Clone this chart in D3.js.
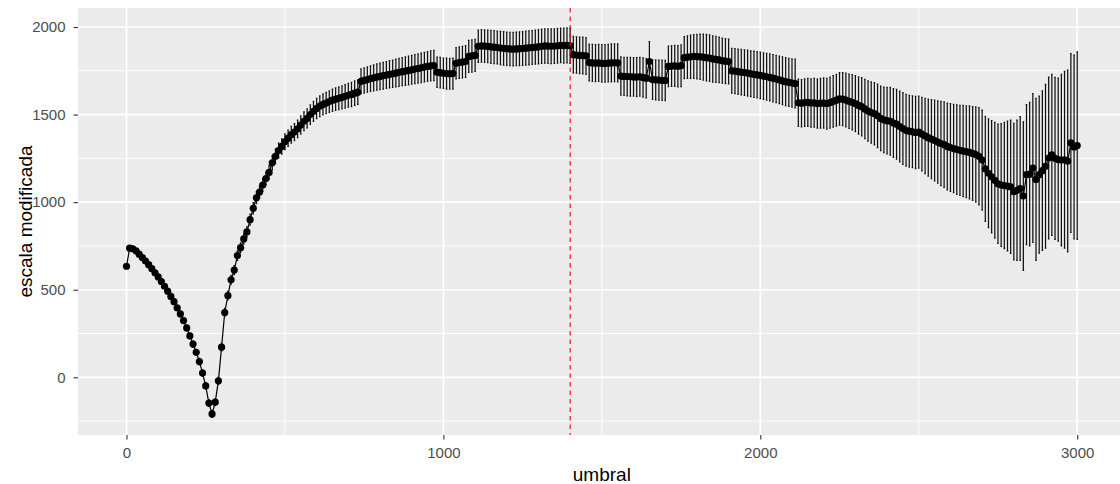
<!DOCTYPE html>
<html><head><meta charset="utf-8">
<script src="https://cdn.jsdelivr.net/npm/d3@7"></script>
<style>body{margin:0;background:#fff;overflow:hidden}</style>
</head><body><svg id="c" width="1120" height="484"></svg>
<script>
// ---- data ----
const umbral = d3.range(0, 3001, 10);
const escala = [
  634, 737, 734, 722, 703, 684, 664, 643, 620, 597,
  573, 547, 520, 492, 462, 432, 396, 362, 324, 282,
  236, 190, 143, 90, 24, -49, -147, -209, -142, -20,
  172, 370, 466, 557, 612, 695, 740, 790, 830, 900,
  965, 1025, 1058, 1098, 1135, 1170, 1225, 1262, 1295, 1318,
  1345, 1365, 1385, 1400, 1418, 1440, 1462, 1478, 1500, 1518,
  1535, 1548, 1558, 1566, 1574, 1582, 1588, 1593, 1598, 1604,
  1610, 1615, 1622, 1628, 1690, 1695, 1700, 1705, 1710, 1714,
  1718, 1722, 1726, 1730, 1733, 1737, 1741, 1745, 1748, 1752,
  1756, 1760, 1763, 1767, 1771, 1775, 1778, 1780, 1742, 1739,
  1736, 1734, 1733, 1734, 1793, 1797, 1800, 1803, 1832, 1835,
  1838, 1890, 1892, 1891, 1889, 1887, 1885, 1883, 1880, 1878,
  1876, 1875, 1874, 1875, 1876, 1877, 1879, 1881, 1883, 1885,
  1887, 1890, 1892, 1891, 1890, 1891, 1893, 1895, 1894, 1895,
  1893, 1842, 1840, 1838, 1837, 1835, 1797, 1795, 1794, 1795,
  1793, 1792, 1794, 1795, 1796, 1795, 1720, 1718, 1717, 1716,
  1715, 1714, 1716, 1712, 1708, 1803, 1700, 1698, 1697, 1696,
  1695, 1775, 1777, 1778, 1776, 1779, 1825, 1828, 1830, 1832,
  1831, 1830, 1828, 1825, 1822, 1818, 1815, 1812, 1808, 1805,
  1803, 1750, 1748, 1745, 1742, 1740, 1737, 1733, 1730, 1727,
  1724, 1720, 1716, 1712, 1708, 1703, 1698, 1693, 1688, 1684,
  1680, 1677, 1567, 1565, 1568, 1570, 1566, 1567, 1563, 1565,
  1566, 1562, 1568, 1575, 1582, 1590, 1588, 1583, 1576, 1570,
  1562, 1552, 1545, 1532, 1520, 1512, 1505, 1493, 1478, 1470,
  1465, 1462, 1452, 1445, 1432, 1420, 1410, 1405, 1402, 1398,
  1400, 1388, 1378, 1368, 1360, 1352, 1343, 1335, 1328, 1318,
  1312, 1306, 1300, 1296, 1292, 1288, 1284, 1278, 1272, 1262,
  1240, 1190, 1165, 1145, 1125, 1105, 1098, 1095, 1092, 1088,
  1060, 1068, 1078, 1035, 1157, 1160, 1195, 1130, 1157, 1180,
  1205, 1252, 1270, 1250, 1243, 1240, 1242, 1235, 1338, 1315,
  1323
];
const margenError = [
  6, 7, 7, 8, 8, 9, 9, 10, 10, 11,
  11, 12, 12, 13, 13, 14, 14, 15, 15, 16,
  16, 17, 17, 18, 18, 19, 19, 20, 20, 21,
  22, 23, 24, 25, 26, 27, 28, 29, 30, 31,
  32, 33, 34, 36, 37, 38, 40, 41, 42, 44,
  45, 46, 48, 49, 50, 52, 53, 54, 56, 57,
  58, 59, 60, 61, 62, 63, 64, 65, 66, 67,
  68, 69, 70, 70, 71, 72, 72, 73, 74, 75,
  76, 76, 77, 78, 78, 79, 80, 80, 81, 82,
  82, 83, 83, 84, 84, 85, 85, 86, 86, 87,
  87, 88, 88, 89, 89, 90, 90, 91, 91, 92,
  92, 92, 93, 93, 93, 94, 94, 94, 95, 95,
  95, 95, 96, 96, 96, 96, 97, 97, 97, 97,
  98, 98, 98, 98, 99, 99, 99, 99, 100, 100,
  100, 104, 104, 104, 105, 105, 105, 106, 106, 106,
  107, 107, 107, 108, 108, 108, 109, 109, 110, 110,
  110, 111, 111, 112, 112, 113, 113, 114, 114, 115,
  115, 116, 116, 117, 118, 119, 120, 121, 123, 125,
  127, 129, 131, 133, 133, 132, 131, 130, 129, 128,
  128, 128, 129, 129, 130, 130, 131, 131, 132, 132,
  133, 133, 134, 134, 135, 135, 136, 136, 137, 137,
  138, 139, 135, 135, 136, 137, 138, 139, 140, 142,
  144, 145, 146, 147, 148, 150, 151, 153, 155, 158,
  160, 163, 166, 169, 172, 175, 178, 181, 184, 187,
  190, 193, 196, 199, 202, 205, 205, 205, 205, 206,
  206, 210, 215, 220, 225, 230, 235, 240, 244, 248,
  250, 252, 255, 257, 260, 262, 265, 268, 272, 278,
  285, 300, 310, 320, 330, 340, 350, 360, 370, 380,
  390, 400, 410, 424, 400, 410, 424, 462, 448, 455,
  467, 462, 460, 462, 465, 490, 505, 519, 510, 524,
  535
];
const xTicks = [0, 1000, 2000, 3000];
const yTicks = [0, 500, 1000, 1500, 2000];
const xMinor = [500, 1500, 2500];
const yMinor = [-250, 250, 750, 1250, 1750];
const umbralElegido = 1400;
const xTitle = "umbral";
const yTitle = "escala modificada";

// ---- layout ----
const P = {l: 78, t: 8, b: 435, r: 1125.7};
const font = "'Liberation Sans', Arial, sans-serif";
const svg = d3.select("#c");
svg.append("rect").attr("width", 1120).attr("height", 484).attr("fill", "#fff");

const x = d3.scaleLinear().domain([-153, 3153]).range([P.l, P.r]);
const y = d3.scaleLinear().domain([-329.4, 2108.5]).range([P.b, P.t]);

svg.append("defs").append("clipPath").attr("id", "clip")
  .append("rect").attr("x", P.l).attr("y", P.t).attr("width", P.r - P.l).attr("height", P.b - P.t);

svg.append("rect").attr("x", P.l).attr("y", P.t).attr("width", P.r - P.l).attr("height", P.b - P.t)
  .attr("fill", "#EBEBEB");

const g = svg.append("g").attr("clip-path", "url(#clip)");
// grid
g.selectAll(".vmin").data(xMinor).join("line")
  .attr("x1", d => x(d)).attr("x2", d => x(d)).attr("y1", P.t).attr("y2", P.b)
  .attr("stroke", "#fff").attr("stroke-width", 0.9);
g.selectAll(".hmin").data(yMinor).join("line")
  .attr("y1", d => y(d)).attr("y2", d => y(d)).attr("x1", P.l).attr("x2", P.r)
  .attr("stroke", "#fff").attr("stroke-width", 0.9);
g.selectAll(".vmaj").data(xTicks).join("line")
  .attr("x1", d => x(d)).attr("x2", d => x(d)).attr("y1", P.t).attr("y2", P.b)
  .attr("stroke", "#fff").attr("stroke-width", 1.7);
g.selectAll(".hmaj").data(yTicks).join("line")
  .attr("y1", d => y(d)).attr("y2", d => y(d)).attr("x1", P.l).attr("x2", P.r)
  .attr("stroke", "#fff").attr("stroke-width", 1.7);

const data = umbral.map((t, i) => ({t, v: escala[i], e: margenError[i]}));

// line
g.append("path").datum(data)
  .attr("d", d3.line().x(d => x(d.t)).y(d => y(d.v)))
  .attr("fill", "none").attr("stroke", "#000").attr("stroke-width", 1.2);

// error bars
const cap = 2.5;
g.selectAll(".eb").data(data).join("path")
  .attr("d", d => {
    const xl = x(d.t - cap), xr = x(d.t + cap), xc = x(d.t);
    const yt = y(d.v + d.e), yb = y(d.v - d.e);
    return `M${xl},${yt}H${xr}M${xc},${yt}V${yb}M${xl},${yb}H${xr}`;
  })
  .attr("fill", "none").attr("stroke", "#111").attr("stroke-width", 1.25);

// points
g.selectAll(".pt").data(data).join("circle")
  .attr("cx", d => x(d.t)).attr("cy", d => y(d.v)).attr("r", 3.6).attr("fill", "#000");

// vline
g.append("line").attr("x1", x(umbralElegido)).attr("x2", x(umbralElegido))
  .attr("y1", P.t).attr("y2", P.b)
  .attr("stroke", "#FF0000").attr("stroke-width", 1.1).attr("stroke-dasharray", "4.5,4");

// axes
const ax = svg.append("g").attr("transform", `translate(0,${P.b})`)
  .call(d3.axisBottom(x).tickValues(xTicks).tickSize(4.5).tickPadding(8).tickFormat(d3.format("d")));
const ay = svg.append("g").attr("transform", `translate(${P.l},0)`)
  .call(d3.axisLeft(y).tickValues(yTicks).tickSize(4.5).tickPadding(8).tickFormat(d3.format("d")));
[ax, ay].forEach(a => {
  a.select(".domain").remove();
  a.selectAll(".tick line").attr("stroke", "#333").attr("stroke-width", 1.1);
  a.selectAll(".tick text").attr("fill", "#4D4D4D").style("font-family", font).style("font-size", "15px");
});

svg.append("text").attr("x", (P.l + P.r) / 2).attr("y", 481).attr("text-anchor", "middle")
  .style("font-family", font).style("font-size", "19px").attr("fill", "#000").text(xTitle);
svg.append("text").attr("transform", `translate(32,${(P.t + P.b) / 2}) rotate(-90)`)
  .attr("text-anchor", "middle")
  .style("font-family", font).style("font-size", "19px").attr("fill", "#000").text(yTitle);
</script>
</body></html>
